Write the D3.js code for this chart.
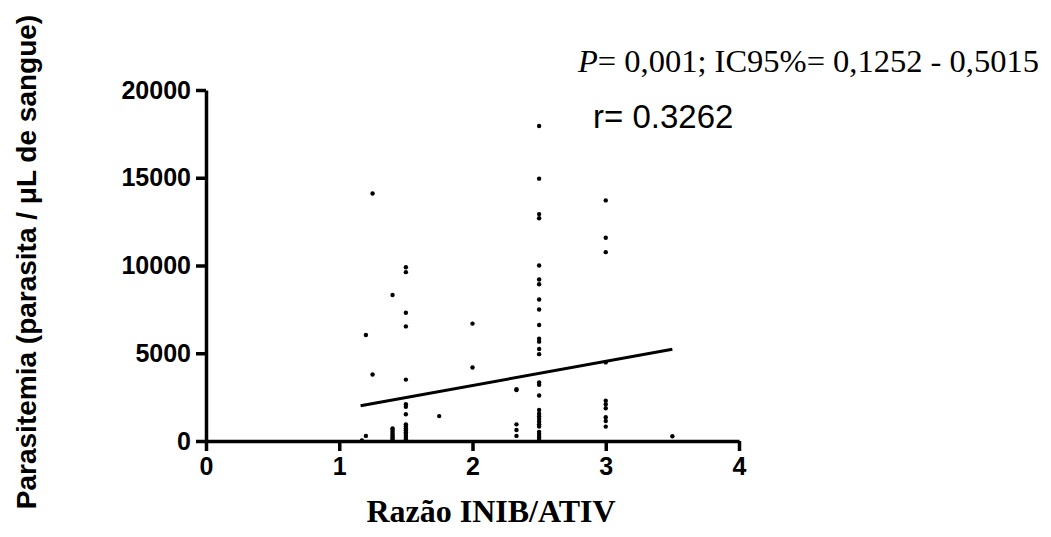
<!DOCTYPE html>
<html>
<head>
<meta charset="utf-8">
<script src="https://cdn.jsdelivr.net/npm/d3@7"></script>
<style>
  body { margin: 0; background: #fff; }
  svg { display: block; }
</style>
</head>
<body>
<svg id="chart"></svg>
<script>
// values, grouped by ratio INIB/ATIV (x)
const ratioValues = [1.17, 1.2, 1.25, 1.4, 1.5, 1.75, 2.0, 2.33, 2.5, 3.0, 3.5];
const parasitemiaByRatio = [
  [30],
  [6040, 290],
  [14100, 3790],
  [8320, 720, 620, 520, 420, 320, 220, 120, 40],
  [9900, 9620, 7310, 6530, 3500, 2100, 1950, 1520, 950, 830, 720, 610, 500, 400, 300, 190, 80],
  [1420],
  [6690, 4190],
  [2950, 2900, 950, 630, 290],
  [17950, 14950, 12930, 12690, 10000, 9200, 8930, 8060, 7490, 6610, 5830, 5660, 5240, 4950,
   3330, 3200, 2590, 1770, 1550, 1400, 1250, 1100, 950, 820, 520, 400, 290, 180, 70],
  [13710, 11580, 10760, 4480, 2300, 2100, 1870, 1350, 1140, 820],
  [270]
];
// fitted line as drawn (intercept, slope) and its x span
const fitIntercept = 418;
const fitSlope = 1374;
const fitRange = [1.16, 3.5];

const xTicks = [0, 1, 2, 3, 4];
const yTicks = [0, 5000, 10000, 15000, 20000];

const statText = "= 0,001; IC95%= 0,1252 - 0,5015";
const rText = "r= 0.3262";
const xTitle = "Razão INIB/ATIV";
const yTitle = "Parasitemia (parasita / μL de sangue)";

const W = 1051, H = 537;
const svg = d3.select("#chart").attr("width", W).attr("height", H);

const x = d3.scaleLinear().domain([0, 4]).range([206, 739]);
const y = d3.scaleLinear().domain([0, 20000]).range([441, 90]);

const sans = "'Liberation Sans', Arial, sans-serif";
const serif = "'Liberation Serif', 'Times New Roman', serif";

// axes
const gx = svg.append("g")
  .attr("transform", `translate(0,${y(0)})`)
  .call(d3.axisBottom(x).tickValues(xTicks).tickFormat(d3.format("d")).tickSize(10).tickSizeOuter(0).tickPadding(6));
const gy = svg.append("g")
  .attr("transform", `translate(${x(0)},0)`)
  .call(d3.axisLeft(y).tickValues(yTicks).tickFormat(d => d).tickSize(10).tickSizeOuter(0).tickPadding(5));

[gx, gy].forEach(g => {
  g.select(".domain").attr("stroke", "#000").attr("stroke-width", 3.5);
  g.selectAll(".tick line").attr("stroke", "#000").attr("stroke-width", 3.5);
  g.selectAll(".tick text")
    .attr("fill", "#000")
    .style("font-family", sans)
    .style("font-weight", "bold")
    .style("font-size", "25px");
});

// points
const points = ratioValues.flatMap((r, i) => parasitemiaByRatio[i].map(v => [r, v]));
svg.append("g").selectAll("circle")
  .data(points)
  .join("circle")
  .attr("cx", d => x(d[0]))
  .attr("cy", d => y(d[1]))
  .attr("r", 2.2)
  .attr("fill", "#000");

// regression line
svg.append("path")
  .datum(fitRange.map(v => [v, fitIntercept + fitSlope * v]))
  .attr("fill", "none")
  .attr("stroke", "#000")
  .attr("stroke-width", 3)
  .attr("d", d3.line().x(d => x(d[0])).y(d => y(d[1])));

// annotations
const st = svg.append("text")
  .attr("x", 578).attr("y", 72)
  .style("font-family", serif)
  .style("font-size", "32.5px");
st.append("tspan").style("font-style", "italic").text("P");
st.append("tspan").text(statText);

svg.append("text")
  .attr("x", 593).attr("y", 128)
  .style("font-family", sans)
  .style("font-size", "33px")
  .text(rText);

svg.append("text")
  .attr("x", 491).attr("y", 522)
  .attr("text-anchor", "middle")
  .style("font-family", serif)
  .style("font-weight", "bold")
  .style("font-size", "32px")
  .text(xTitle);

svg.append("text")
  .attr("transform", "translate(36,262) rotate(-90)")
  .attr("text-anchor", "middle")
  .style("font-family", sans)
  .style("font-weight", "bold")
  .style("font-size", "28px")
  .text(yTitle);
</script>
</body>
</html>
